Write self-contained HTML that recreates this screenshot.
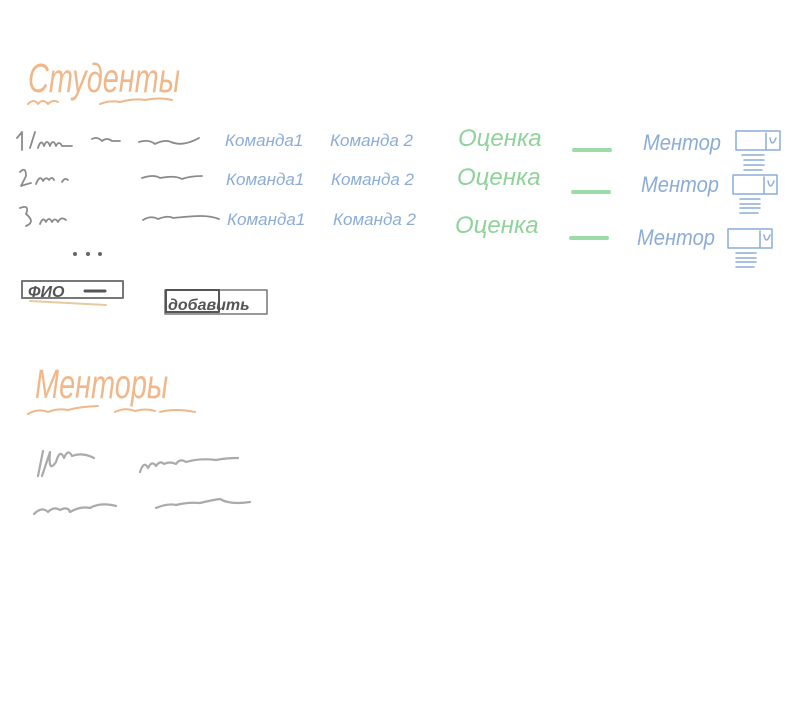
<!DOCTYPE html>
<html><head><meta charset="utf-8"><style>
html,body{margin:0;padding:0;background:#fff;width:800px;height:706px;overflow:hidden}
svg{display:block}
text{font-family:"Liberation Sans","DejaVu Sans",sans-serif;font-style:italic}
</style></head><body>
<svg width="800" height="706" viewBox="0 0 800 706" fill="none" stroke-linecap="round" stroke-linejoin="round">
<text x="28" y="92" font-size="34" fill="#f0b88a" transform="translate(28 92) scale(0.85 1.2) translate(-28 -92)">Студенты</text>
<path d="M28 104 q6 -6 10 0 q5 -6 10 0 q5 -5 10 -2 M100 104 q10 -4 20 -2 q15 -4 25 -2 q15 -3 27 0" stroke="#f0b88a" stroke-width="2"/>
<g stroke="#8a8a8a" stroke-width="1.8">
<path d="M17 138 l5 -6 v18 M30 148 l5 -16 M38 148 q3 -10 6 -2 q3 -8 6 0 q3 -8 6 0 q3 -6 6 0 l10 0"/>
<path d="M92 139 q5 -3 10 2 q5 -4 10 0 h8" />
<path d="M139 142 q10 -3 16 2 q10 -5 16 -2 q12 5 28 -4"/>
<path d="M20 172 q6 -6 6 4 l-5 10 q6 -2 10 -3 M36 184 q4 -10 7 -3 q3 -5 6 -1 q3 -4 5 0 M62 182 q3 -5 6 -2"/>
<path d="M142 178 q12 -4 18 0 q15 -3 22 1 q8 -3 20 -3"/>
<path d="M20 208 q10 -4 6 6 q10 8 0 12 M40 224 q3 -8 6 -2 q3 -6 6 0 q3 -5 6 0 q3 -6 8 -2"/>
<path d="M143 220 q8 -5 15 -1 q10 -4 15 -1 q20 -2 28 -2 q10 0 18 3"/>
</g>
<g fill="#666"><circle cx="75" cy="254" r="2"/><circle cx="88" cy="254" r="2"/><circle cx="100" cy="254" r="2"/></g>
<g fill="#8cacd8" font-size="17">
<text x="225" y="146">Команда1</text><text x="226" y="185">Команда1</text><text x="227" y="225">Команда1</text>
<text x="330" y="146">Команда 2</text><text x="331" y="185">Команда 2</text><text x="333" y="225">Команда 2</text>
</g>
<g fill="#8cacd8" font-size="22">
<text x="643" y="150" textLength="78" lengthAdjust="spacingAndGlyphs">Ментор</text>
<text x="641" y="192" textLength="78" lengthAdjust="spacingAndGlyphs">Ментор</text>
<text x="637" y="245" textLength="78" lengthAdjust="spacingAndGlyphs">Ментор</text>
</g>
<g fill="#8fd39a" font-size="24">
<text x="458" y="146">Оценка</text><text x="457" y="185">Оценка</text><text x="455" y="233">Оценка</text>
</g>
<g stroke="#9adba6" stroke-width="4">
<path d="M574 150 h36"/><path d="M573 192 h36"/><path d="M571 238 h36"/>
</g>
<g stroke="#8cacd8" stroke-width="1.5">
<rect x="736" y="131" width="44" height="19"/><path d="M766 133 v16 M770 138 q2 10 6 0"/>
<path d="M742 155 h22 M744 160 h20 M744 165 h20 M744 170 h18"/>
<rect x="733" y="175" width="44" height="19"/><path d="M764 177 v16 M768 181 q2 10 6 0"/>
<path d="M740 199 h20 M740 204 h20 M740 208 h20 M740 213 h18"/>
<rect x="728" y="229" width="44" height="19"/><path d="M760 231 v16 M764 235 q2 10 6 0"/>
<path d="M736 253 h20 M736 258 h20 M736 262 h20 M736 267 h18"/>
</g>
<rect x="22" y="281" width="101" height="17" stroke="#777" stroke-width="2"/>
<text x="28" y="297" font-size="16" fill="#555" font-weight="bold">ФИО</text>
<path d="M85 291 h20" stroke="#555" stroke-width="3"/>
<path d="M30 301 l76 4" stroke="#e8c9a0" stroke-width="2"/>
<rect x="165" y="290" width="102" height="24" stroke="#777" stroke-width="1.5"/>
<rect x="166" y="290" width="53" height="22" stroke="#555" stroke-width="2"/>
<text x="168" y="310" font-size="16" fill="#555" font-weight="bold">добавить</text>
<text x="35" y="398" font-size="34" fill="#f0b88a" transform="translate(35 398) scale(0.85 1.2) translate(-35 -398)">Менторы</text>
<path d="M28 414 q10 -6 20 -2 q10 -4 20 -2 q10 -3 30 -4 M115 412 q10 -5 20 -1 q10 -3 20 0 M160 412 q15 -4 35 0" stroke="#f0b88a" stroke-width="2"/>
<g stroke="#aaa" stroke-width="2.2">
<path d="M38 476 l5 -25 M42 476 l8 -24 q-2 22 6 10 q4 -14 8 -4 q4 -10 8 -2 q10 -4 22 2"/>
<path d="M140 472 q4 -12 8 -4 q4 -8 8 -2 q4 -6 8 -2 q6 -3 12 0 q4 -6 10 -2 q14 -4 30 -2 q10 -2 22 -2"/>
<path d="M34 514 q8 -8 14 -2 q6 -6 12 -2 q8 -4 10 2 q10 -6 20 -4 q10 -6 26 -2"/>
<path d="M156 508 q12 -5 20 -3 q12 -3 24 -2 q12 -3 20 -4 q10 6 30 3"/>
</g>
</svg>
</body></html>
